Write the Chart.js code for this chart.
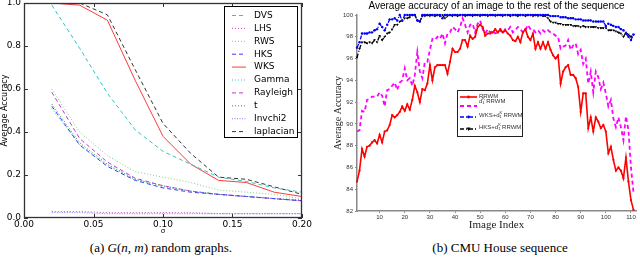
<!DOCTYPE html>
<html>
<head>
<meta charset="utf-8">
<script src="https://cdn.jsdelivr.net/npm/chart.js@4/dist/chart.umd.min.js"></script>
<style>
  body { margin: 0; background: #fff; width: 640px; height: 259px; overflow: hidden; position: relative; }
  .panel { position: absolute; top: 0; width: 320px; height: 240px; }
  .cap { position: absolute; top: 240px; width: 220px; text-align: center; font-family: "Liberation Serif", serif; font-size: 13px; line-height: 16px; color: #000; white-space: nowrap; }
</style>
</head>
<body>
<div class="panel" style="left:0"><canvas id="leftChart" width="320" height="240"></canvas></div>
<div class="panel" style="left:320px"><canvas id="rightChart" width="320" height="240"></canvas></div>
<div class="cap" style="left:51px">(a) <i>G</i>(<i>n</i>, <i>m</i>) random graphs.</div>
<div class="cap" style="left:390px">(b) CMU House sequence</div>
<script>
// ---- (a) accuracy vs sigma ----
const sigmaValues = [0.02, 0.04, 0.06, 0.08, 0.10, 0.12, 0.14, 0.16, 0.18, 0.20];
const dvsAcc       = [0.99, 0.79, 0.58, 0.41, 0.31, 0.25, 0.19, 0.17, 0.14, 0.12];
const lhsAcc       = [0.03, 0.03, 0.025, 0.025, 0.025, 0.025, 0.02, 0.02, 0.02, 0.02];
const rwsAcc       = [0.60, 0.40, 0.29, 0.215, 0.19, 0.165, 0.13, 0.12, 0.11, 0.09];
const hksAcc       = [0.52, 0.34, 0.24, 0.175, 0.14, 0.12, 0.11, 0.10, 0.09, 0.08];
const wksAcc       = [1.0, 0.99, 0.92, 0.64, 0.38, 0.25, 0.175, 0.165, 0.12, 0.10];
const gammaAcc     = [0.51, 0.34, 0.245, 0.18, 0.145, 0.125, 0.11, 0.10, 0.09, 0.085];
const rayleighAcc  = [0.585, 0.37, 0.26, 0.185, 0.15, 0.125, 0.11, 0.10, 0.09, 0.08];
const tAcc         = [0.53, 0.35, 0.25, 0.18, 0.15, 0.125, 0.11, 0.10, 0.09, 0.08];
const invchi2Acc   = [0.025, 0.025, 0.02, 0.02, 0.02, 0.02, 0.02, 0.02, 0.02, 0.02];
const laplacianAcc = [1.0, 1.0, 0.945, 0.69, 0.44, 0.30, 0.19, 0.18, 0.145, 0.11];

// ---- (b) CMU House sequence ----
const imageTicks = [10, 20, 30, 40, 50, 60, 70, 80, 90, 100, 110];
const rrwmAcc = [84.7,85.7,87.7,87.0,87.9,88.0,88.3,88.5,88.2,89.0, 88.3,89.3,89.4,89.9,90.8,90.6,90.8,91.1,91.6,91.2,
  91.8,91.3,92.2,93.5,92.9,92.0,93.2,93.1,93.7,95.4, 94.0,95.2,95.4,95.4,95.4,95.4,94.6,95.7,96.9,96.6,
  96.6,96.9,97.7,97.7,97.1,98.1,97.8,98.0,98.9,99.1, 98.9,98.1,98.3,98.3,98.4,98.7,98.4,98.7,98.4,98.6,
  98.3,98.1,97.7,97.6,98.0,97.5,98.4,98.7,98.0,97.7, 98.3,96.9,97.5,96.9,97.5,96.9,97.5,96.8,96.3,96.0,
  96.3,93.7,94.8,95.2,95.4,94.5,94.5,94.2,93.4,91.1, 92.8,92.8,89.6,90.6,89.3,90.6,90.2,89.6,89.9,89.3,
  87.3,87.9,86.7,85.7,86.0,85.7,85.0,86.9,84.7,83.0, 82.1];
const d1RrwmAcc = [89.3,89.4,91.2,91.1,92.2,92.3,92.5,92.5,92.5,92.9, 92.6,91.6,93.1,93.2,93.5,93.8,93.1,93.8,94.0,95.1,
  94.0,94.2,93.5,94.5,96.6,94.8,94.2,95.7,95.7,96.8, 97.8,97.7,98.0,97.8,98.3,97.4,98.3,98.4,98.9,98.7,
  98.4,98.9,99.7,99.1,98.4,99.1,99.2,98.4,99.2,99.5, 98.7,98.3,98.7,98.4,98.6,98.3,98.4,98.6,98.3,98.7,
  98.6,98.9,98.4,98.6,98.9,98.7,98.4,98.6,99.1,98.7, 98.7,98.4,98.6,98.3,98.6,98.4,98.6,98.4,98.3,98.1,
  98.0,96.9,97.1,97.2,97.7,96.8,97.2,97.4,96.4,96.8, 95.5,96.0,93.7,94.8,92.9,94.8,94.3,93.2,93.8,92.8,
  91.6,92.2,90.5,89.7,90.6,89.7,88.5,90.7,89.4,86.0, 83.7];
const wksD1Acc = [97.0,97.5,98.3,98.3,98.3,98.4,98.4,98.6,98.7,99.2, 98.9,98.6,99.1,99.6,99.6,99.7,99.5,100,99.5,100,
  100,100,100,100,99.5,99.4,100,100,100,100, 100,100,100,100,99.7,100,100,100,100,100,
  100,100,100,100,100,100,100,100,100,100, 100,100,100,100,100,100,100,100,100,100,
  100,100,100,100,100,100,100,100,100,100, 100,100,100,100,100,100,100,99.9,99.9,99.9,
  99.9,99.8,99.8,99.8,99.7,99.7,99.7,99.6,99.6,99.6, 99.5,99.5,99.5,99.5,99.4,99.4,99.4,99.4,99.4,99.0,
  99.2,99.1,99.0,98.9,98.9,98.7,98.6,98.3,98.0,97.7, 98.2];
const hksD1Acc = [96.1,96.9,97.5,97.5,97.4,97.5,97.4,97.7,97.5,98.1, 97.7,98.0,98.3,98.4,98.7,99.1,99.1,99.4,99.5,99.7,
  99.7,99.8,100,100,99.5,99.4,99.9,99.9,100,99.9, 100,99.9,100,99.9,100,99.7,99.9,100,99.9,100,
  99.9,100,100,99.9,100,100,99.9,100,100,99.9, 100,100,99.9,100,100,99.9,100,100,99.9,100,
  100,99.9,100,100,99.9,100,100,99.9,100,100, 99.9,100,99.9,100,99.9,99.9,99.7,99.4,99.3,99.3,
  99.2,99.2,99.1,99.1,99.1,99.1,99.0,99.0,99.0,98.9, 99.0,98.9,98.9,98.9,98.9,98.9,98.8,98.8,98.8,98.8,
  98.6,98.6,98.6,98.5,98.4,98.3,98.0,98.4,98.2,98.0, 98.2];

const sigmaPts = ys => ys.map((y, i) => ({ x: sigmaValues[i], y: y }));
const indexPts = ys => ys.map((y, i) => ({ x: i + 1, y: y }));

function fixBox(w, h) {
    return function (scale) {
        if (w !== null) scale.width = w;
        if (h !== null) scale.height = h;
        scale.paddingTop = 0; scale.paddingBottom = 0;
        scale.paddingLeft = 0; scale.paddingRight = 0;
    };
}

// matplotlib style frame with inward ticks
const mplFrame = {
    id: 'mplFrame',
    afterDatasetsDraw(chart) {
        const { ctx, chartArea: a, scales: { x, y } } = chart;
        ctx.save();
        ctx.strokeStyle = '#333';
        ctx.lineWidth = 1;
        ctx.beginPath();
        x.ticks.forEach(t => {
            const px = Math.round(x.getPixelForValue(t.value)) + 0.5;
            ctx.moveTo(px, a.bottom); ctx.lineTo(px, a.bottom - 4);
            ctx.moveTo(px, a.top); ctx.lineTo(px, a.top + 4);
        });
        y.ticks.forEach(t => {
            const py = Math.round(y.getPixelForValue(t.value)) + 0.5;
            ctx.moveTo(a.left, py); ctx.lineTo(a.left + 4, py);
            ctx.moveTo(a.right, py); ctx.lineTo(a.right - 4, py);
        });
        ctx.stroke();
        ctx.lineWidth = 1.3;
        ctx.strokeRect(a.left + 0.5, a.top + 0.5, a.width - 1, a.height - 1);
        ctx.restore();
    }
};

const leftLegend = {
    id: 'leftLegend',
    afterDraw(chart) {
        const ctx = chart.ctx;
        ctx.save();
        ctx.fillStyle = '#fff';
        ctx.fillRect(224, 6, 74, 132);
        ctx.strokeStyle = '#000';
        ctx.lineWidth = 1;
        ctx.strokeRect(224.5, 6.5, 73, 131);
        ctx.font = '9px "DejaVu Sans"';
        ctx.textBaseline = 'middle';
        chart.data.datasets.forEach((ds, i) => {
            const yy = 15.5 + i * 12.9;
            ctx.strokeStyle = ds.borderColor;
            ctx.lineWidth = ds.borderWidth;
            ctx.setLineDash(ds.borderDash || []);
            ctx.beginPath(); ctx.moveTo(232, yy); ctx.lineTo(246, yy); ctx.stroke();
            ctx.setLineDash([]);
            ctx.fillStyle = '#000';
            ctx.fillText(ds.label, 254, yy);
        });
        ctx.restore();
    }
};

function mplLine(label, values, color, dash) {
    return {
        label: label, data: sigmaPts(values), borderColor: color, borderWidth: 1,
        borderDash: dash, pointRadius: 0, fill: false, tension: 0
    };
}

new Chart(document.getElementById('leftChart'), {
    type: 'line',
    data: {
        datasets: [
            mplLine('DVS', dvsAcc, '#33c4c4', [4, 3]),
            mplLine('LHS', lhsAcc, '#c840c8', [1, 2]),
            mplLine('RWS', rwsAcc, '#7fcf7f', [1, 2]),
            mplLine('HKS', hksAcc, '#3a3aff', [4, 3]),
            mplLine('WKS', wksAcc, '#ff3a3a', []),
            mplLine('Gamma', gammaAcc, '#33c4c4', [1, 2]),
            mplLine('Rayleigh', rayleighAcc, '#c833c8', [4, 3]),
            mplLine('t', tAcc, '#2e9a2e', [1, 2]),
            mplLine('Invchi2', invchi2Acc, '#7f7fff', [1, 1.5]),
            mplLine('laplacian', laplacianAcc, '#333333', [4, 3])
        ]
    },
    options: {
        responsive: false,
        animation: false,
        layout: { padding: { left: 0, top: 3, right: 18, bottom: 0 } },
        plugins: { legend: { display: false }, tooltip: { enabled: false } },
        scales: {
            x: {
                type: 'linear', min: 0, max: 0.2,
                afterFit: fixBox(null, 22),
                grid: { display: false, drawTicks: false },
                border: { display: false },
                ticks: { stepSize: 0.05, padding: 1, color: '#000', font: { family: 'DejaVu Sans', size: 9 },
                         callback: v => v.toFixed(2), maxRotation: 0 },
                title: { display: true, text: 'σ', color: '#000', font: { family: 'DejaVu Sans', size: 7 },
                         padding: { top: 0, bottom: 5 } }
            },
            y: {
                min: 0, max: 1,
                afterFit: fixBox(24, null),
                grid: { display: false, drawTicks: false },
                border: { display: false },
                ticks: { stepSize: 0.2, padding: 3, color: '#000', font: { family: 'DejaVu Sans', size: 9 },
                         callback: v => v.toFixed(1) },
                title: { display: true, text: 'Average Accuracy', color: '#000',
                         font: { family: 'DejaVu Sans', size: 8 }, padding: 0 }
            }
        }
    },
    plugins: [mplFrame, leftLegend]
});

// MATLAB style right panel
const rightDecor = {
    id: 'rightDecor',
    afterDraw(chart) {
        const ctx = chart.ctx;
        const a = chart.chartArea;
        ctx.save();
        ctx.fillStyle = '#000';
        ctx.font = '10px "Liberation Sans"';
        ctx.textAlign = 'center';
        ctx.textBaseline = 'middle';
        ctx.fillText('Average accuracy of an image to the rest of the sequence', (a.left + a.right) / 2, 6);

        // legend box
        const bx = 137, by = 90, bw = 65, bh = 46;
        ctx.fillStyle = '#fff';
        ctx.fillRect(bx, by, bw, bh);
        ctx.strokeStyle = '#222';
        ctx.lineWidth = 1;
        ctx.strokeRect(bx + 0.5, by + 0.5, bw, bh);
        const rows = [97, 106, 117, 129];
        const textRows = [96, 101, 115, 127];
        chart.data.datasets.forEach((ds, i) => {
            const yy = rows[i];
            ctx.strokeStyle = ds.borderColor;
            ctx.lineWidth = ds.borderWidth;
            ctx.setLineDash(ds.borderDash || []);
            ctx.beginPath(); ctx.moveTo(140, yy); ctx.lineTo(157, yy); ctx.stroke();
            ctx.setLineDash([]);
            if (ds.pointRadius > 0) {
                ctx.fillStyle = ds.borderColor;
                if (ds.pointStyle === 'triangle') {
                    ctx.beginPath(); ctx.moveTo(148.5, yy + 2); ctx.lineTo(146.5, yy - 1.5); ctx.lineTo(150.5, yy - 1.5); ctx.closePath(); ctx.fill();
                } else {
                    ctx.beginPath(); ctx.arc(148.5, yy, 1.4, 0, Math.PI * 2); ctx.fill();
                }
            }
            ctx.fillStyle = '#333';
            ctx.textAlign = 'left';
            const ty = textRows[i];
            let x = 159;
            ds.labelParts.forEach(p => {
                ctx.font = p.size + 'px "Liberation Sans"';
                ctx.fillText(p.text, x, ty + p.dy);
                if (!p.stack) x += ctx.measureText(p.text).width;
            });
        });
        ctx.restore();
    }
};

const d1Parts = pre => pre.concat([
    { text: 'd', size: 6, dy: 0 },
    { text: 'K', size: 4, dy: -2.5, stack: true },
    { text: '1', size: 4, dy: 2 },
    { text: ' RRWM', size: 6, dy: 0 }
]);

new Chart(document.getElementById('rightChart'), {
    type: 'line',
    data: {
        datasets: [
            { label: 'RRWM', labelParts: [{ text: 'RRWM', size: 6, dy: 0 }],
              data: indexPts(rrwmAcc), borderColor: '#ff0000', backgroundColor: '#ff0000', borderWidth: 1.6,
              pointRadius: 1.1, pointStyle: 'circle', pointBorderWidth: 0, clip: 4 },
            { label: 'd1K RRWM', labelParts: d1Parts([]),
              data: indexPts(d1RrwmAcc), borderColor: '#ff00ff', backgroundColor: '#ff00ff', borderWidth: 1.8,
              borderDash: [4, 3], pointRadius: 0, clip: 4 },
            { label: 'WKS+d1K RRWM', labelParts: d1Parts([{ text: 'WKS+', size: 6, dy: 0 }]),
              data: indexPts(wksD1Acc), borderColor: '#0000ff', backgroundColor: '#0000ff', borderWidth: 1.3,
              borderDash: [4, 2, 1, 2], pointRadius: 1.2, pointStyle: 'circle', pointBorderWidth: 0, clip: 4 },
            { label: 'HKS+d1K RRWM', labelParts: d1Parts([{ text: 'HKS+', size: 6, dy: 0 }]),
              data: indexPts(hksD1Acc), borderColor: '#000000', backgroundColor: '#000000', borderWidth: 1.3,
              borderDash: [4, 2, 1, 2], pointRadius: 1.5, pointStyle: 'triangle', pointRotation: 180,
              pointBorderWidth: 0, clip: 4 }
        ]
    },
    options: {
        responsive: false,
        animation: false,
        layout: { padding: { left: 0, top: 15, right: 4, bottom: 0 } },
        plugins: { legend: { display: false }, tooltip: { enabled: false } },
        scales: {
            x: {
                type: 'linear', min: 1, max: 112,
                afterFit: fixBox(null, 29),
                afterBuildTicks: s => { s.ticks = imageTicks.map(v => ({ value: v })); },
                grid: { drawOnChartArea: false, tickLength: 2, color: '#888' },
                border: { color: '#888', width: 1.5 },
                ticks: { padding: 1, color: '#333', font: { family: 'Liberation Sans', size: 6 }, maxRotation: 0, autoSkip: false },
                title: { display: true, text: 'Image Index', color: '#222',
                         font: { family: 'Liberation Serif', size: 11 }, padding: { top: 0, bottom: 8 } }
            },
            y: {
                min: 82, max: 100,
                afterFit: fixBox(37, null),
                grid: { drawOnChartArea: false, tickLength: 2, color: '#888' },
                border: { color: '#888', width: 1.5 },
                ticks: { stepSize: 2, padding: 2, color: '#333', font: { family: 'Liberation Sans', size: 6 } },
                title: { display: true, text: 'Average Accuracy', color: '#222',
                         font: { family: 'Liberation Serif', size: 10 }, padding: { top: 12, bottom: 0 } }
            }
        }
    },
    plugins: [rightDecor]
});
</script>
</body>
</html>
